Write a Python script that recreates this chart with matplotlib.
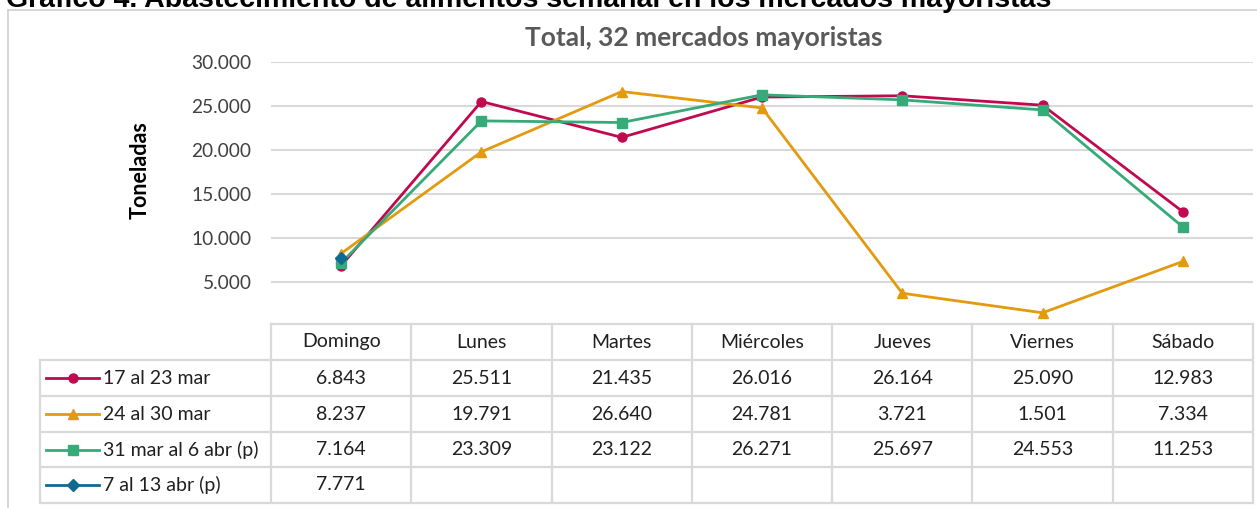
import matplotlib
matplotlib.use("Agg")
import matplotlib.pyplot as plt
from matplotlib.lines import Line2D
from matplotlib.ticker import FuncFormatter

plt.rcParams['font.family'] = ['Lato', 'DejaVu Sans']

days = ['Domingo', 'Lunes', 'Martes', 'Miércoles', 'Jueves', 'Viernes', 'Sábado']
labels = ['17 al 23 mar', '24 al 30 mar', '31 mar al 6 abr (p)', '7 al 13 abr (p)']
s1 = [6843, 25511, 21435, 26016, 26164, 25090, 12983]
s2 = [8237, 19791, 26640, 24781, 3721, 1501, 7334]
s3 = [7164, 23309, 23122, 26271, 25697, 24553, 11253]
s4 = [7771]
series = [s1, s2, s3, s4]
colors = ['#C0094F', '#E39A0E', '#36AA78', '#0F6A93']
markers = ['o', '^', 's', 'D']
msizes = [6.5, 7.5, 6.5, 6.5]
yticks = [5000, 10000, 15000, 20000, 25000, 30000]

W, H = 1257, 508
fig = plt.figure(figsize=(W / 100, H / 100), dpi=100)

def fx(px):
    return px / W

def fy(py):
    return 1 - py / H

# outer frame
fig.add_artist(Line2D([fx(8), fx(8)], [fy(10), fy(508)], color='#D0D0D0', lw=1.2))
fig.add_artist(Line2D([fx(8), fx(1257)], [fy(10), fy(10)], color='#D0D0D0', lw=1.2))

# cropped document title
fig.text(fx(6), fy(7), 'Gráfico 4. Abastecimiento de alimentos semanal en los mercados mayoristas',
         fontsize=20.5, fontweight='bold', color='black', ha='left', va='baseline',
         family=['Liberation Sans'])

left, right = 271, 1253
top, bottom = 62, 326
ax = fig.add_axes([fx(left), fy(bottom), fx(right) - fx(left), fy(top) - fy(bottom)])
n = len(days)
xs = list(range(n))
for s, c, m, ms in zip(series, colors, markers, msizes):
    ax.plot(xs[:len(s)], s, color=c, marker=m, markersize=ms, lw=2, zorder=3)
ax.set_xlim(-0.5, n - 0.5)
ax.set_ylim(0, 30000)
ax.set_yticks(yticks)
ax.yaxis.set_major_formatter(FuncFormatter(lambda v, p: f"{int(v):,}".replace(',', '.')))
ax.tick_params(axis='y', length=0, labelsize=13.8, labelcolor='#404040', pad=14)
ax.set_xticks([])
ax.grid(axis='y', color='#D9D9D9', lw=1.5)
ax.set_axisbelow(True)
for sp in ax.spines.values():
    sp.set_visible(False)

fig.text(fx(704), fy(38), 'Total, 32 mercados mayoristas', fontsize=19, fontweight='bold',
         color='#595959', ha='center', va='center')
fig.text(fx(140), fy(170), 'Toneladas', fontsize=15.5, fontweight='bold', rotation=90,
         ha='center', va='center', color='black')

# data table
gc = '#D9D9D9'
col_w = (right - left) / n
row_edges = [324, 360, 396, 432, 467, 503]
leg_left = 40

def hline(y, x0, x1):
    fig.add_artist(Line2D([fx(x0), fx(x1)], [fy(y), fy(y)], color=gc, lw=1.6))

def vline(x, y0, y1):
    fig.add_artist(Line2D([fx(x), fx(x)], [fy(y0), fy(y1)], color=gc, lw=1.6))

hline(row_edges[0], left, right)
for y in row_edges[1:]:
    hline(y, leg_left, right)
vline(leg_left, row_edges[1], row_edges[-1])
for i in range(n + 1):
    vline(left + i * col_w, row_edges[0], row_edges[-1])

fs = 14
for i, d in enumerate(days):
    fig.text(fx(left + (i + 0.5) * col_w), fy((row_edges[0] + row_edges[1]) / 2), d,
             fontsize=fs, ha='center', va='center', color='#202020')

for r, (s, lab, c, m, ms) in enumerate(zip(series, labels, colors, markers, msizes)):
    yc = (row_edges[r + 1] + row_edges[r + 2]) / 2
    fig.add_artist(Line2D([fx(46), fx(99)], [fy(yc), fy(yc)], color=c, lw=2))
    fig.add_artist(Line2D([fx(72.5)], [fy(yc)], color=c, marker=m, markersize=ms, lw=0))
    fig.text(fx(103), fy(yc), lab, fontsize=fs, ha='left', va='center', color='#202020')
    for i, v in enumerate(s):
        fig.text(fx(left + (i + 0.5) * col_w), fy(yc), f"{v:,}".replace(',', '.'),
                 fontsize=fs, ha='center', va='center', color='#202020')

fig.savefig('out.png', dpi=100)
